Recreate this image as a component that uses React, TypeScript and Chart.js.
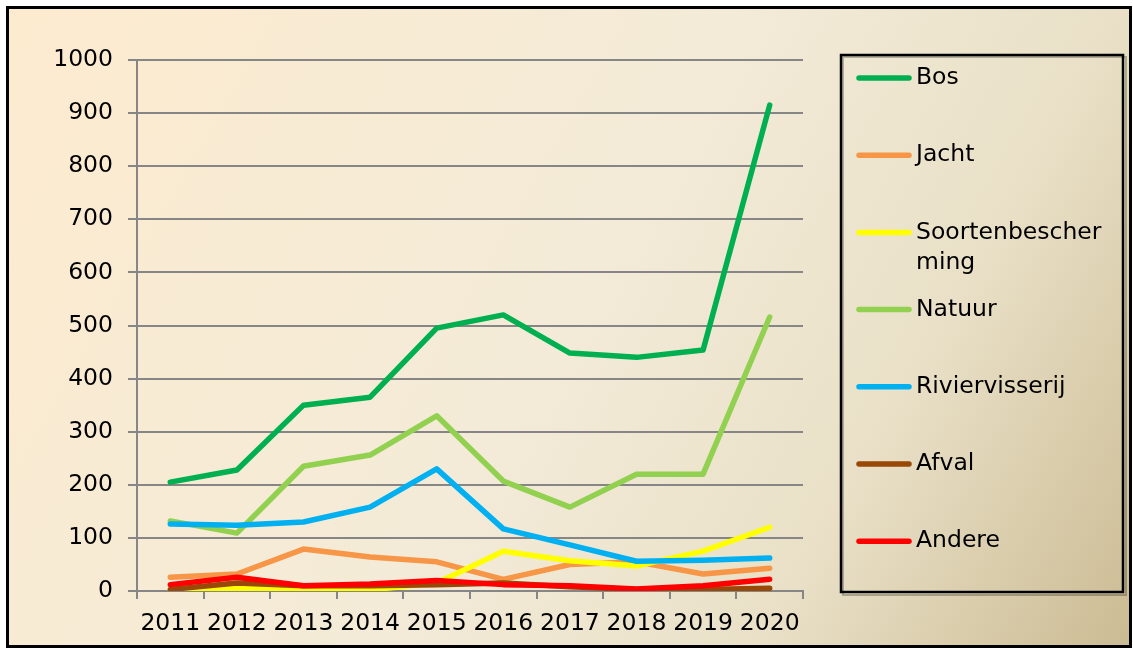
import React, { useEffect, useRef } from "react";
import { Chart, registerables } from "chart.js";

Chart.register(...registerables);

const years = ["2011", "2012", "2013", "2014", "2015", "2016", "2017", "2018", "2019", "2020"];

const bos = [205, 228, 350, 365, 495, 520, 448, 440, 454, 915];
const jacht = [26, 32, 79, 64, 55, 22, 50, 55, 32, 43];
const soortenbescherming = [2, 5, 2, 2, 15, 75, 57, 47, 75, 120];
const natuur = [132, 109, 235, 256, 330, 207, 158, 220, 220, 516];
const riviervisserij = [126, 124, 130, 158, 230, 117, 87, 56, 58, 62];
const afval = [3, 15, 10, 10, 12, 15, 8, 3, 3, 5];
const andere = [12, 26, 10, 13, 20, 12, 10, 4, 10, 22];

const seriesNames = ["Bos", "Jacht", "Soortenbescherming", "Natuur", "Riviervisserij", "Afval", "Andere"];
const legendLines = [["Bos"], ["Jacht"], ["Soortenbescher", "ming"], ["Natuur"], ["Riviervisserij"], ["Afval"], ["Andere"]];
const seriesColors = ["#00B050", "#F79646", "#FFFF00", "#92D050", "#00B0F0", "#984807", "#FF0000"];
const seriesData = [bos, jacht, soortenbescherming, natuur, riviervisserij, afval, andere];

const yTicks = [0, 100, 200, 300, 400, 500, 600, 700, 800, 900, 1000];

const FONT = "'DejaVu Sans', Verdana, sans-serif";

const backgroundPlugin = {
  id: "bgFrame",
  beforeDraw(chart: any) {
    const { ctx, width, height } = chart;
    ctx.save();
    ctx.fillStyle = "#ffffff";
    ctx.fillRect(0, 0, width, height);
    const g = ctx.createLinearGradient(6, 6, 1131, 647);
    g.addColorStop(0, "#FDEBCF");
    g.addColorStop(0.5, "#F3EBD8");
    g.addColorStop(0.75, "#E9E0C7");
    g.addColorStop(1, "#CBBB93");
    ctx.fillStyle = g;
    ctx.fillRect(7, 7, 1124, 640);
    ctx.restore();
  },
  afterDraw(chart: any) {
    const { ctx } = chart;
    ctx.save();
    ctx.strokeStyle = "#000000";
    ctx.lineWidth = 3;
    ctx.strokeRect(7.5, 7.5, 1123, 639);
    ctx.strokeStyle = "rgba(0,0,0,0.25)";
    ctx.lineWidth = 2;
    ctx.strokeRect(843, 57, 283, 538);
    ctx.strokeStyle = "#000000";
    ctx.lineWidth = 2.5;
    ctx.strokeRect(841, 55, 282, 537);
    ctx.font = `23.5px ${FONT}`;
    ctx.textBaseline = "middle";
    ctx.textAlign = "left";
    ctx.lineCap = "round";
    const startY = 78;
    const step = 77.2;
    legendLines.forEach((lines, i) => {
      const y = startY + i * step;
      ctx.strokeStyle = seriesColors[i];
      ctx.lineWidth = 5.5;
      ctx.beginPath();
      ctx.moveTo(859, y);
      ctx.lineTo(909, y);
      ctx.stroke();
      ctx.fillStyle = "#000000";
      lines.forEach((t, j) => {
        ctx.fillText(t, 916, y + j * 30);
      });
    });
    ctx.restore();
  },
};

export default function App() {
  const canvasRef = useRef<HTMLCanvasElement>(null);

  useEffect(() => {
    if (!canvasRef.current) return;
    const chart = new Chart(canvasRef.current, {
      type: "line",
      data: {
        labels: years,
        datasets: seriesNames.map((name, i) => ({
          label: name,
          data: seriesData[i],
          borderColor: seriesColors[i],
          backgroundColor: seriesColors[i],
          borderWidth: 5.5,
          pointRadius: 0,
          tension: 0,
          fill: false,
          borderJoinStyle: "round" as const,
          borderCapStyle: "round" as const,
          order: seriesNames.length - i,
        })),
      },
      options: {
        responsive: false,
        animation: false,
        layout: { padding: { top: 60, right: 330, bottom: 0, left: 0 } },
        plugins: {
          legend: { display: false },
          tooltip: { enabled: false },
          title: { display: false },
        },
        scales: {
          x: {
            type: "category",
            offset: true,
            afterFit(scale: any) {
              scale.height = 57;
            },
            grid: {
              offset: true,
              drawOnChartArea: false,
              drawTicks: true,
              tickLength: 8,
              color: "#868686",
              lineWidth: 2,
            },
            border: { display: true, color: "#868686", width: 2 },
            ticks: {
              color: "#000000",
              font: { family: FONT, size: 23.5 },
              padding: 11,
              maxRotation: 0,
              autoSkip: false,
            },
          },
          y: {
            min: 0,
            max: 1000,
            afterFit(scale: any) {
              scale.width = 137;
            },
            afterBuildTicks(scale: any) {
              scale.ticks = yTicks.map((v) => ({ value: v }));
            },
            grid: {
              color: "#868686",
              lineWidth: 2,
              drawTicks: true,
              tickLength: 9,
            },
            border: { display: true, color: "#868686", width: 2 },
            ticks: {
              color: "#000000",
              font: { family: FONT, size: 23.5 },
              padding: 15,
              callback: (v: any) => String(v),
            },
          },
        },
      },
      plugins: [backgroundPlugin],
    });
    return () => chart.destroy();
  }, []);

  return (
    <div style={{ position: "absolute", left: 0, top: 0, width: 1133, height: 648 }}>
      <canvas ref={canvasRef} width={1133} height={648} style={{ display: "block" }} />
    </div>
  );
}
